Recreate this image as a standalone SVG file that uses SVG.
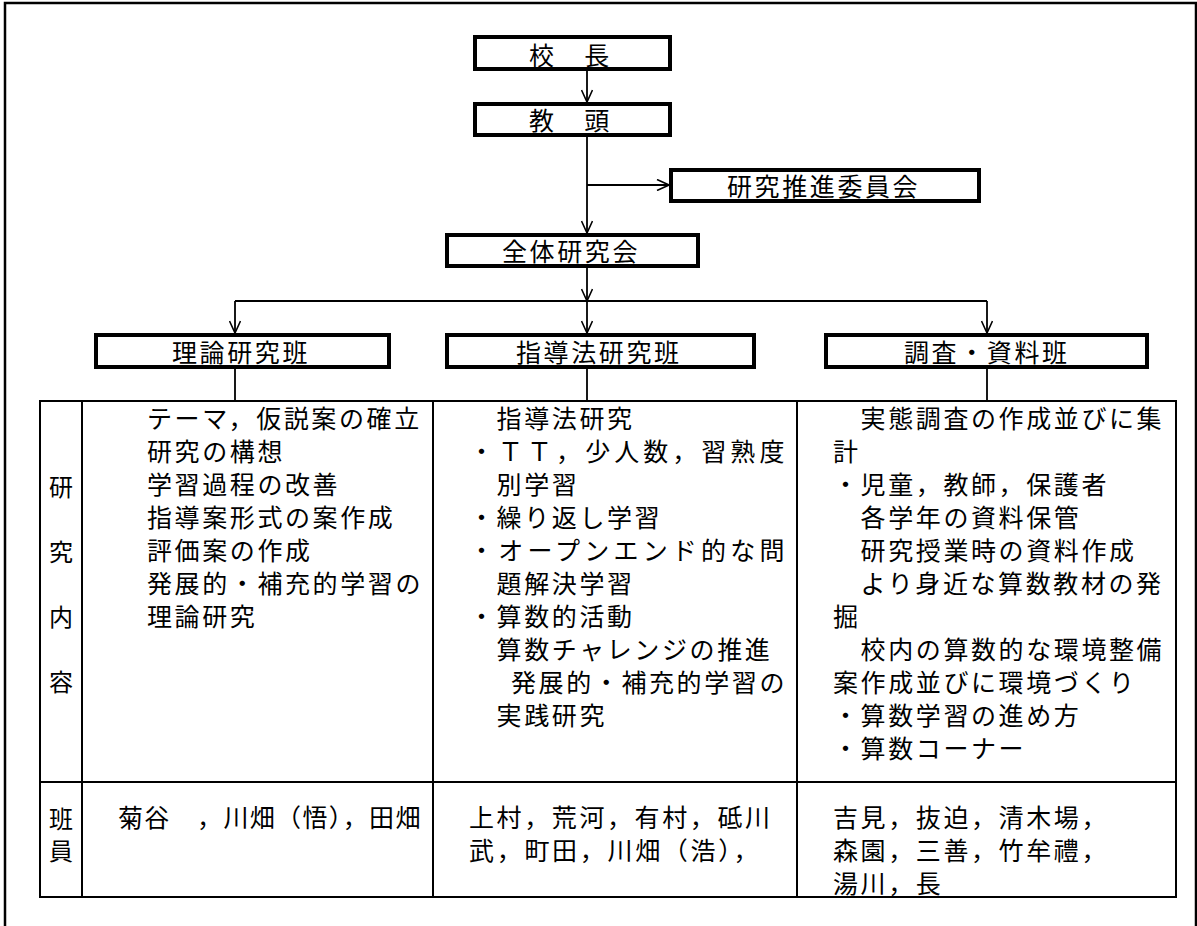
<svg xmlns="http://www.w3.org/2000/svg" width="1197" height="926" viewBox="0 0 1197 926">
<defs>
<style>
.box{fill:#fff;stroke:#000;stroke-width:4}
.t{font-family:'Noto Sans CJK JP','Noto Sans',sans-serif;font-size:25px;letter-spacing:2.6px;fill:#000}
.lab{font-family:'Noto Sans CJK JP','Noto Sans',sans-serif;font-size:24px;fill:#000;text-anchor:middle}
.ln{stroke:#000;stroke-width:1.8;fill:none}
.tb{stroke:#000;stroke-width:2;fill:none}
</style>
<marker id="ah" viewBox="0 0 14 12" refX="13" refY="6" markerWidth="14" markerHeight="12" markerUnits="userSpaceOnUse" orient="auto">
<path d="M1,0.5 L13,6 L1,11.5" fill="none" stroke="#000" stroke-width="1.6"/>
</marker>
</defs>
<rect width="1197" height="926" fill="#fff"/>
<path d="M5,926 V3 H1196 V926" fill="none" stroke="#000" stroke-width="2.5"/>

<g id="connectors">
<path class="ln" d="M587,71 V102" marker-end="url(#ah)"/>
<path class="ln" d="M587,137 V233" marker-end="url(#ah)"/>
<path class="ln" d="M587,185 H669" marker-end="url(#ah)"/>
<path class="ln" d="M587,268 V301" marker-end="url(#ah)"/>
<path class="ln" d="M235,301 H987"/>
<path class="ln" d="M235,301 V333" marker-end="url(#ah)"/>
<path class="ln" d="M587,301 V333" marker-end="url(#ah)"/>
<path class="ln" d="M987,301 V333" marker-end="url(#ah)"/>
<path class="ln" d="M235,369 V401 M587,369 V401 M987,369 V401"/>
</g>

<g id="kocho"><rect class="box" x="475" y="37" width="195" height="32"/><text class="t" x="529" y="65" letter-spacing="3.5">校　長</text></g>
<g id="kyoto"><rect class="box" x="475" y="104" width="195" height="31"/><text class="t" x="529" y="129.5" letter-spacing="3.5">教　頭</text></g>
<g id="suishin"><rect class="box" x="671" y="170" width="308" height="31"/><text class="t" x="727" y="196" letter-spacing="2.8">研究推進委員会</text></g>
<g id="zentai"><rect class="box" x="447" y="235" width="251" height="31"/><text class="t" x="502" y="261" letter-spacing="2.8">全体研究会</text></g>
<g id="riron"><rect class="box" x="96" y="335" width="293" height="32"/><text class="t" x="172" y="361.5" letter-spacing="2.8">理論研究班</text></g>
<g id="shidoho"><rect class="box" x="447" y="335" width="307" height="32"/><text class="t" x="516" y="361.5" letter-spacing="2.8">指導法研究班</text></g>
<g id="chosa"><rect class="box" x="826" y="335" width="321" height="32"/><text class="t" x="904" y="361.5" letter-spacing="2.8">調査・資料班</text></g>

<g id="table">
<rect class="tb" x="40" y="401" width="1136" height="496"/>
<path class="tb" d="M82,401 V897 M433,401 V897 M797,401 V897 M40,782 H1176"/>
<text class="lab" x="61" y="496">研</text>
<text class="lab" x="61" y="561">究</text>
<text class="lab" x="61" y="626">内</text>
<text class="lab" x="61" y="691">容</text>
<text class="lab" x="61" y="828">班</text>
<text class="lab" x="61" y="860">員</text>
</g>

<g id="riron-content" class="t">
<text x="147" y="428">テーマ，仮説案の確立</text>
<text x="147" y="461">研究の構想</text>
<text x="147" y="494">学習過程の改善</text>
<text x="147" y="527">指導案形式の案作成</text>
<text x="147" y="560">評価案の作成</text>
<text x="147" y="593">発展的・補充的学習の</text>
<text x="147" y="626">理論研究</text>
</g>

<g id="shidoho-content" class="t">
<text x="469" y="428">　指導法研究</text>
<text x="469" y="461" textLength="318" lengthAdjust="spacing">・ＴＴ，少人数，習熟度</text>
<text x="469" y="494">　別学習</text>
<text x="469" y="527">・繰り返し学習</text>
<text x="469" y="560" textLength="318" lengthAdjust="spacing">・オープンエンド的な問</text>
<text x="469" y="593">　題解決学習</text>
<text x="469" y="626">・算数的活動</text>
<text x="469" y="659">　算数チャレンジの推進</text>
<text x="511" y="692">発展的・補充的学習の</text>
<text x="469" y="725">　実践研究</text>
</g>

<g id="chosa-content" class="t">
<text x="833" y="428">　実態調査の作成並びに集</text>
<text x="833" y="461">計</text>
<text x="833" y="494">・児童，教師，保護者</text>
<text x="833" y="527">　各学年の資料保管</text>
<text x="833" y="560">　研究授業時の資料作成</text>
<text x="833" y="593">　より身近な算数教材の発</text>
<text x="833" y="626">掘</text>
<text x="833" y="659">　校内の算数的な環境整備</text>
<text x="833" y="692">案作成並びに環境づくり</text>
<text x="833" y="725">・算数学習の進め方</text>
<text x="833" y="758">・算数コーナー</text>
</g>

<g id="members" class="t">
<text x="118" y="827" textLength="305" lengthAdjust="spacing">菊谷　，川畑（悟），田畑</text>
<text x="469" y="827">上村，荒河，有村，砥川</text>
<text x="469" y="860" textLength="292" lengthAdjust="spacing">武，町田，川畑（浩），</text>
<text x="833" y="827">吉見，抜迫，清木場，</text>
<text x="833" y="860">森園，三善，竹牟禮，</text>
<text x="833" y="893">湯川，長</text>
</g>
</svg>
